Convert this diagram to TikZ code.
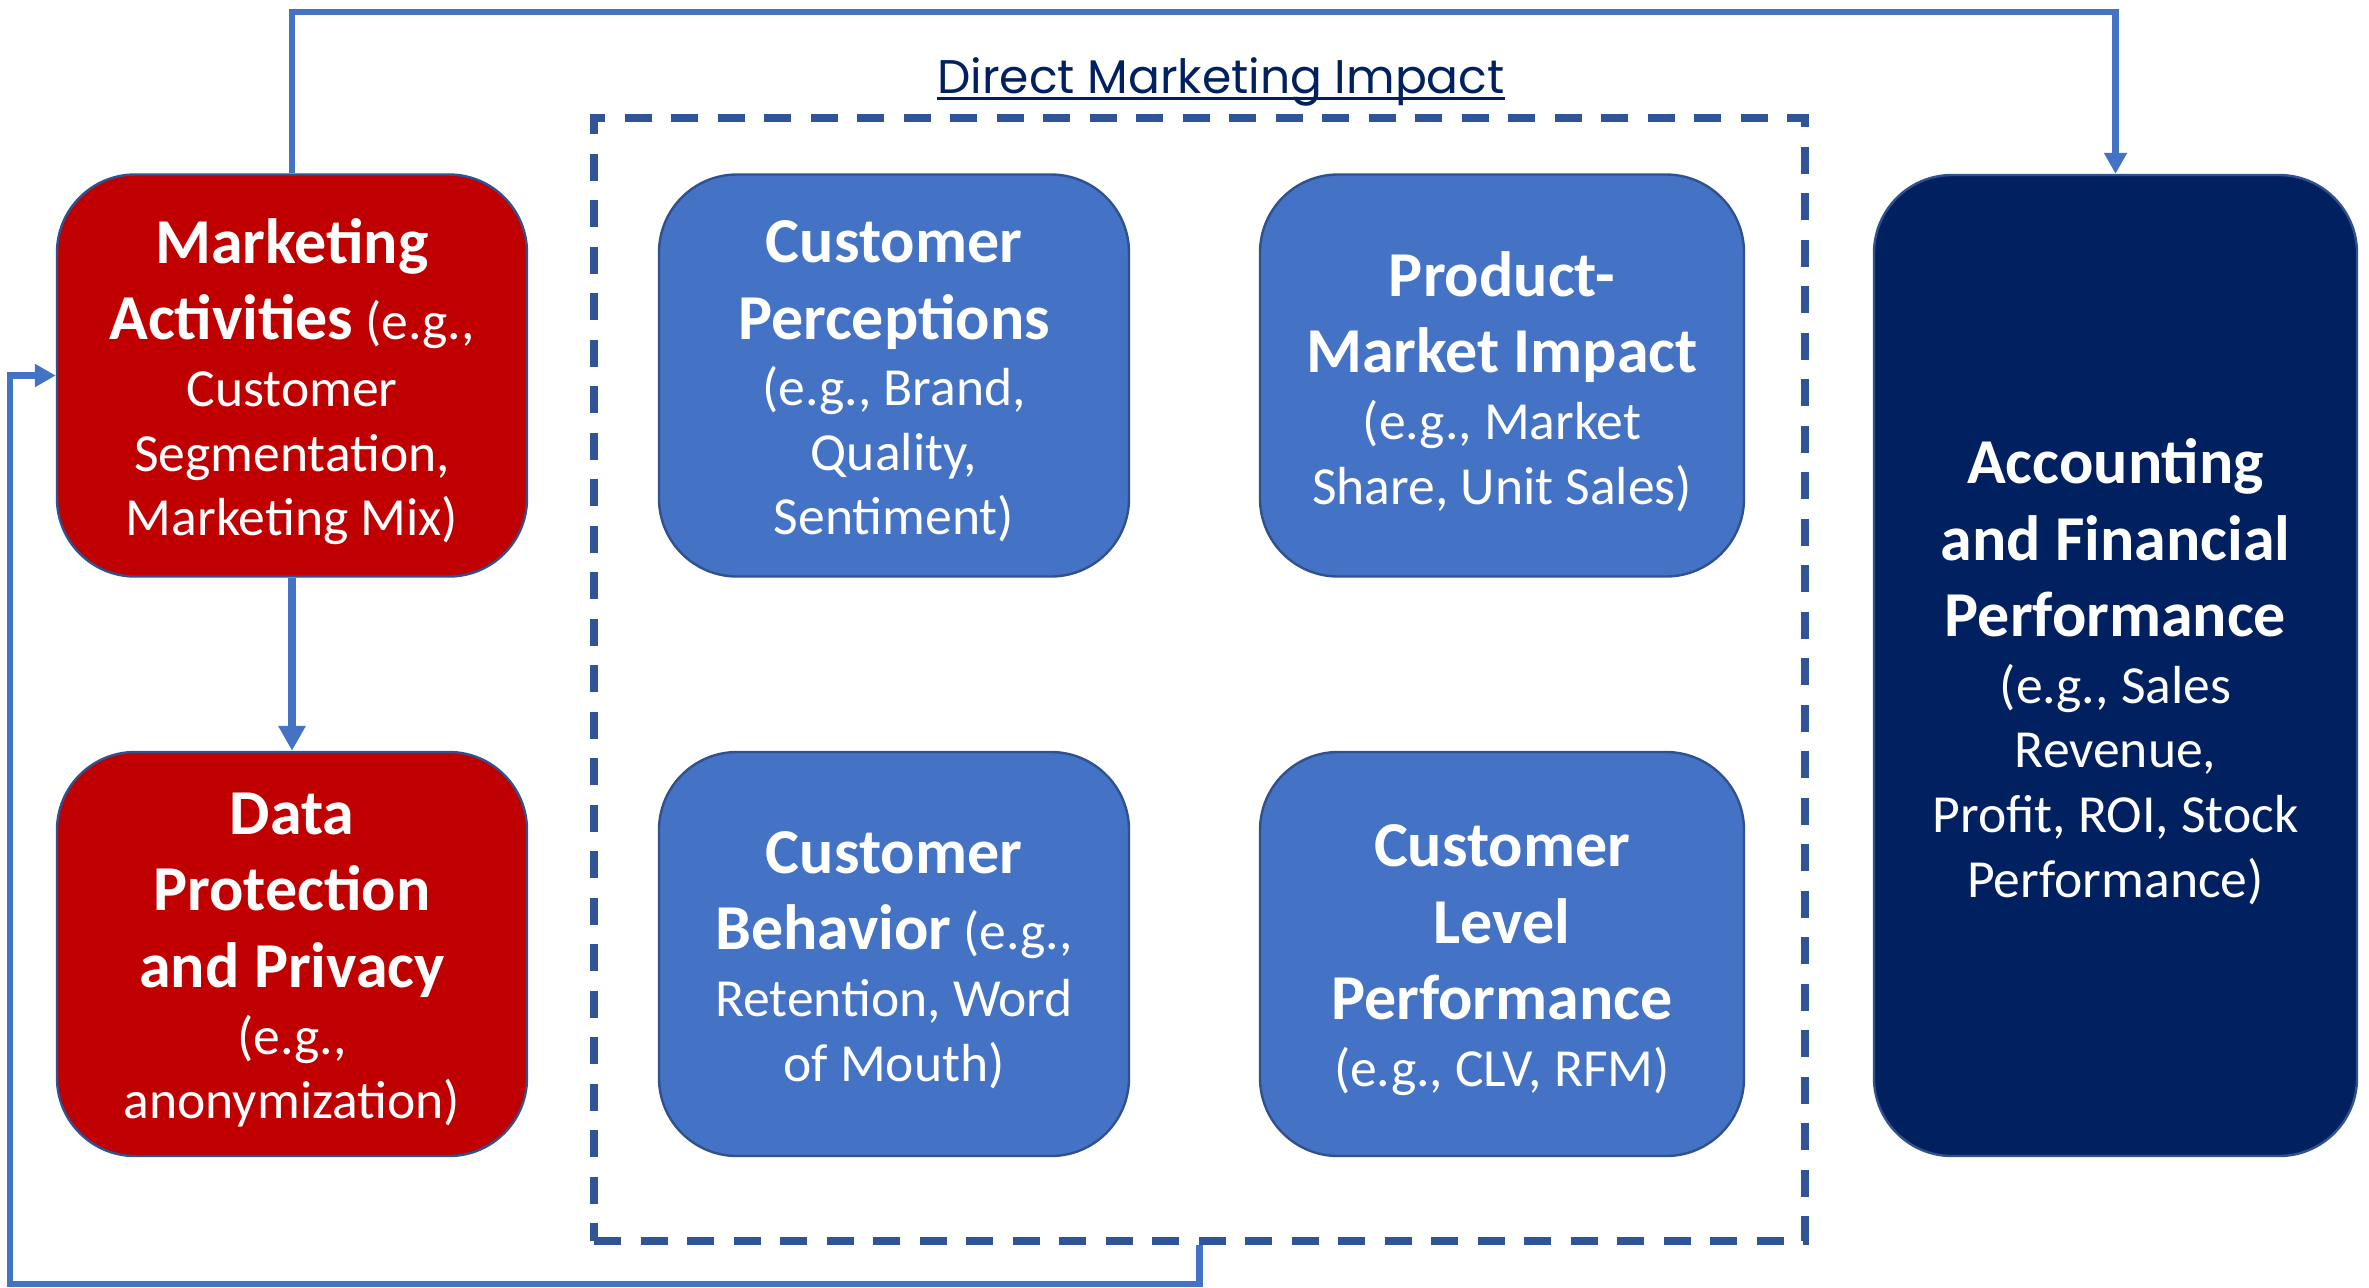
\documentclass[tikz,border=0pt]{standalone}
\usepackage{fontspec}
\setmainfont{Carlito}
\newfontfamily\titlefont{Poppins}
\usetikzlibrary{arrows.meta}

\definecolor{actred}{HTML}{C00000}
\definecolor{midblue}{HTML}{4472C4}
\definecolor{navy}{HTML}{002060}
\definecolor{boxline}{HTML}{2F528F}
\definecolor{connblue}{HTML}{4472C4}
\definecolor{dashblue}{HTML}{2F5597}

% heading lines inside the boxes
\newcommand\bxhead{\fontsize{32}{38}\selectfont\bfseries}

\tikzset{
  box/.style={rounded corners=39pt, draw=boxline, line width=1.2pt, inner sep=0pt},
  boxtext/.style={text=white, align=center, inner sep=0pt, yshift=-3pt,
    font=\fontsize{26.8}{32.3}\selectfont},
  smallbox/.style={box, minimum width=235pt, minimum height=201pt},
  widebox/.style={box, minimum width=242pt, minimum height=201pt},
  redbox/.style={smallbox, fill=actred},
  bluebox/.style={smallbox, fill=midblue},
  widebluebox/.style={widebox, fill=midblue},
  navybox/.style={box, fill=navy, minimum width=241.5pt, minimum height=490.5pt},
  groupbox/.style={draw=dashblue, line width=3.6pt, dash pattern=on 13.5pt off 9.75pt,
    minimum width=605.5pt, minimum height=561.5pt, inner sep=0pt},
  conn/.style={draw=connblue, line width=3.3pt, -{Triangle[length=10.5pt,width=11pt]}},
  thickconn/.style={draw=connblue, line width=4.2pt, -{Triangle[length=12.5pt,width=13pt]}},
}

\begin{document}
\begin{tikzpicture}[x=0.5pt,y=-0.5pt]
  \useasboundingbox (0,0) rectangle (2369,1287);

  % grouping frame and its title
  \node[groupbox] (dmi) at (1199.5,679.5) {};
  \node[anchor=base, inner sep=0pt, text=navy,
        font=\titlefont\fontsize{23.6}{28}\selectfont] (title) at (1221,93)
        {Direct Marketing Impact};
  \draw[navy, line width=1.2pt] ([yshift=-2.8pt]title.base west) -- ([yshift=-2.8pt]title.base east);

  % left column
  \node[redbox] (ma) at (292,375.5) {};
  \node[boxtext] (mat) at (ma.center)
    {{\bxhead Marketing}\\[6pt]{\bxhead Activities} (e.g.,\\[1pt]Customer\\Segmentation,\\Marketing Mix)};
  \node[redbox, minimum height=202pt] (dp) at (292,954) {};
  \node[boxtext] (dpt) at (dp.center)
    {{\bxhead Data}\\[6pt]{\bxhead Protection}\\[6pt]{\bxhead and Privacy}\\[1pt](e.g.,\\anonymization)};

  % direct marketing impact boxes
  \node[bluebox] (cp) at (894,375.5) {};
  \node[boxtext] (cpt) at (cp.center)
    {{\bxhead Customer}\\[6pt]{\bxhead Perceptions}\\[1pt](e.g., Brand,\\Quality,\\Sentiment)};
  \node[widebluebox] (pm) at (1502,375.5) {};
  \node[boxtext] (pmt) at (pm.center)
    {{\bxhead Product-}\\[6pt]{\bxhead Market Impact}\\[1pt](e.g., Market\\Share, Unit Sales)};
  \node[bluebox, minimum height=202pt] (cb) at (894,954) {};
  \node[boxtext] (cbt) at (cb.center)
    {{\bxhead Customer}\\[6pt]{\bxhead Behavior} (e.g.,\\[1pt]Retention, Word\\of Mouth)};
  \node[widebluebox, minimum height=202pt] (cl) at (1502,954) {};
  \node[boxtext] (clt) at (cl.center)
    {{\bxhead Customer}\\[6pt]{\bxhead Level}\\[6pt]{\bxhead Performance}\\[1pt](e.g., CLV, RFM)};

  % outcome box
  \node[navybox] (af) at (2115.5,665.5) {};
  \node[boxtext] (aft) at (af.center)
    {{\bxhead Accounting}\\[6pt]{\bxhead and Financial}\\[6pt]{\bxhead Performance}\\[1pt](e.g., Sales\\Revenue,\\Profit, ROI, Stock\\Performance)};

  % connectors
  \coordinate (topline) at (0,12);
  \coordinate (loopcorner) at (10,1284);
  \draw[conn] (ma.north) -- (ma.north |- topline) -| (af.north);
  \draw[thickconn] (ma.south) -- (dp.north);
  \draw[conn] (dmi.south) |- (loopcorner) |- (ma.west);
\end{tikzpicture}
\end{document}
